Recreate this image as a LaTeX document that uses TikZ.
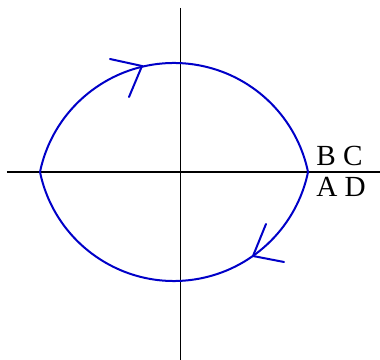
\documentclass[tikz,border=0pt]{standalone}
\usepackage{fontspec}
\setmainfont{Liberation Serif}
\definecolor{curveblue}{RGB}{0,0,200}
\begin{document}
\begin{tikzpicture}[x=0.75pt,y=-0.75pt,
  axis/.style={draw=black,line width=1.1pt},
  orbit/.style={draw=curveblue,line width=1.5pt},
  chevron/.style={draw=curveblue,line width=1.5pt,line cap=round},
  lbl/.style={anchor=base west,inner sep=0pt,font=\fontsize{21.9}{26}\selectfont}]
\useasboundingbox (0,0) rectangle (380,360);
% axes
\coordinate (xl) at (7,172);
\coordinate (xr) at (380,172);
\coordinate (yt) at (180.5,8);
\coordinate (yb) at (180.5,360);
\draw[axis] (xl) -- (xr);
\draw[axis] (yt) -- (yb);
% orbit
\coordinate (L) at (40,172);
\coordinate (R) at (308,172);
\draw[orbit] (L) arc[start angle=191.76,end angle=348.24,radius=136.9];
\draw[orbit] (L) arc[start angle=168.24,end angle=11.76,radius=136.9];
% arrow chevrons
\coordinate (t1) at (142,66);
\coordinate (t1a) at (110,59);
\coordinate (t1b) at (129,97);
\draw[chevron] (t1a) -- (t1) -- (t1b);
\coordinate (t2) at (253,256);
\coordinate (t2a) at (266,224);
\coordinate (t2b) at (284,262);
\draw[chevron] (t2a) -- (t2) -- (t2b);
% labels
\node[lbl] (bc) at (316,166) {B C};
\node[lbl] (ad) at (316,197) {A D};
\end{tikzpicture}
\end{document}
